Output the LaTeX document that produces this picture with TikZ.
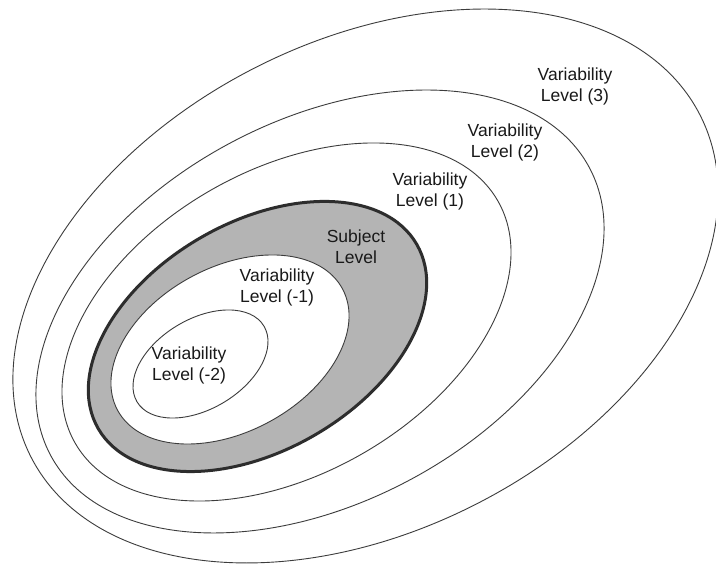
\documentclass[tikz,border=0pt]{standalone}
\usepackage{fontspec}
\setmainfont{Liberation Sans}
\definecolor{ringline}{RGB}{60,60,60}
\definecolor{subjfill}{RGB}{180,180,180}
\definecolor{subjline}{RGB}{45,45,45}
\tikzset{
  ring/.style={draw=ringline, line width=0.9pt},
  subjring/.style={draw=subjline, fill=subjfill, line width=3pt},
  innerring/.style={draw=ringline, fill=white, line width=0.9pt},
  lbl/.style={align=center, inner sep=0pt, font=\fontsize{17.5}{21}\selectfont, text=black!90}
}
\begin{document}
\begin{tikzpicture}[x=1pt,y=1pt]
  \fill[white] (0,0) rectangle (716,564);
  \useasboundingbox (0,0) rectangle (716,564);
  \clip (0,0) rectangle (716,564);
  % nested tilted ellipses, outermost first
  \draw[ring, rotate around={27.1:(365.5,278)}] (365.5,278) ellipse [x radius=375.7, y radius=244.6];
  \draw[ring, rotate around={28.1:(320,252.5)}] (320,252.5) ellipse [x radius=305.4, y radius=190.9];
  \draw[ring, rotate around={29.8:(286.5,242)}] (286.5,242) ellipse [x radius=243.6, y radius=152];
  \draw[subjring, rotate around={30.1:(257.5,227.5)}] (257.5,227.5) ellipse [x radius=184, y radius=114];
  \draw[innerring, rotate around={28.4:(230,214.5)}] (230,214.5) ellipse [x radius=127.8, y radius=82.3];
  \draw[ring, rotate around={30.8:(200.5,200)}] (200.5,200) ellipse [x radius=73.9, y radius=44.9];
  % labels
  \node[lbl] (l3) at (575,478) {Variability\\Level (3)};
  \node[lbl] (l2) at (505,422) {Variability\\Level (2)};
  \node[lbl] (l1) at (430,373) {Variability\\Level (1)};
  \node[lbl] (ls) at (356,317) {Subject\\Level};
  \node[lbl] (lm1) at (277,277) {Variability\\Level (-1)};
  \node[lbl] (lm2) at (189,199) {Variability\\Level (-2)};
\end{tikzpicture}
\end{document}
